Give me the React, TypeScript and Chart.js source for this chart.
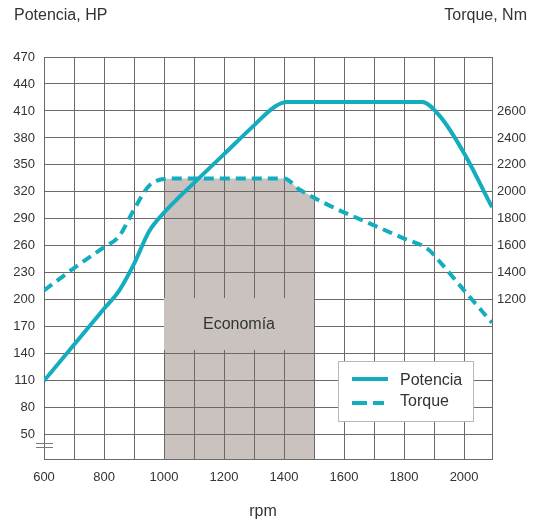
import React, { useEffect, useRef } from 'react';
import { Chart, registerables } from 'chart.js';

Chart.register(...registerables);

// ---- data ----
const potenciaRpm = [600, 700, 800, 850, 900, 950, 1000, 1050, 1100, 1200, 1300, 1370, 1410, 1860, 1920, 2000, 2093];
const potenciaHp = [110, 150, 190, 210, 240, 276, 297, 314, 330, 362, 394, 415, 420, 420, 404, 363, 303];

const torqueRpm = [600, 700, 800, 850, 900, 950, 1000, 1050, 1400, 1450, 1550, 1700, 1800, 1880, 1920, 2000, 2093];
const torqueNm = [1270, 1435, 1590, 1670, 1870, 2045, 2095, 2100, 2100, 2020, 1900, 1752, 1654, 1575, 1480, 1270, 1030];

const economyRpm = [1000, 1050, 1400, 1450, 1500];
const economyNm = [2095, 2100, 2100, 2020, 1960];

const rpmGridTicks = [600, 700, 800, 900, 1000, 1100, 1200, 1300, 1400, 1500, 1600, 1700, 1800, 1900, 2000];
const rpmLabels = [600, 800, 1000, 1200, 1400, 1600, 1800, 2000];
const hpTicks = [50, 80, 110, 140, 170, 200, 230, 260, 290, 320, 350, 380, 410, 440, 470];
const nmTicks = [1200, 1400, 1600, 1800, 2000, 2200, 2400, 2600];

const ECON_LABEL = 'Economía';
const ECON_START = 1000;
const ECON_END = 1500;
const ECON_LABEL_TOP_HP = 202;
const ECON_LABEL_BOTTOM_HP = 144;

const TEAL = '#13adbf';
const GRID = '#6e6866';
const ECON_GRAY = '#c9c2be';
const TEXT = '#333333';
const FONT = '"Liberation Sans", Arial, Helvetica, sans-serif';

const decorPlugin = {
  id: 'decor',
  beforeDatasetsDraw(chart: any) {
    const { ctx } = chart;
    const x = chart.scales.x;
    const y = chart.scales.y;
    const l = Math.round(x.getPixelForValue(ECON_START));
    const r = Math.round(x.getPixelForValue(ECON_END));
    const t = Math.round(y.getPixelForValue(ECON_LABEL_TOP_HP));
    const b = Math.round(y.getPixelForValue(ECON_LABEL_BOTTOM_HP));
    ctx.save();
    ctx.fillStyle = ECON_GRAY;
    ctx.fillRect(l, t, r - l, b - t);
    ctx.fillStyle = TEXT;
    ctx.font = `16px ${FONT}`;
    ctx.textAlign = 'center';
    ctx.textBaseline = 'middle';
    ctx.fillText(ECON_LABEL, (l + r) / 2, (t + b) / 2 + 1);
    ctx.restore();
  },
  afterDraw(chart: any) {
    const { ctx } = chart;
    ctx.save();
    // titles
    ctx.fillStyle = TEXT;
    ctx.font = `16px ${FONT}`;
    ctx.textBaseline = 'middle';
    ctx.textAlign = 'left';
    ctx.fillText('Potencia, HP', 14, 16);
    ctx.textAlign = 'right';
    ctx.fillText('Torque, Nm', 527, 16);
    ctx.textAlign = 'center';
    ctx.fillText('rpm', 263, 512);

    // axis break marks
    ctx.strokeStyle = '#7a7a7a';
    ctx.lineWidth = 1;
    ctx.beginPath();
    ctx.moveTo(36, 443.5);
    ctx.lineTo(53, 443.5);
    ctx.moveTo(36, 447.5);
    ctx.lineTo(53, 447.5);
    ctx.stroke();

    // legend
    const lx = 338, ly = 361, lw = 135, lh = 60;
    ctx.fillStyle = '#ffffff';
    ctx.fillRect(lx, ly, lw, lh);
    ctx.strokeStyle = '#b8b8b8';
    ctx.strokeRect(lx + 0.5, ly + 0.5, lw, lh);

    ctx.strokeStyle = TEAL;
    ctx.lineWidth = 4;
    ctx.beginPath();
    ctx.moveTo(352, 379);
    ctx.lineTo(388, 379);
    ctx.stroke();
    ctx.setLineDash([15, 6]);
    ctx.beginPath();
    ctx.moveTo(352, 403);
    ctx.lineTo(384, 403);
    ctx.stroke();
    ctx.setLineDash([]);

    ctx.fillStyle = TEXT;
    ctx.font = `16px ${FONT}`;
    ctx.textAlign = 'left';
    ctx.textBaseline = 'middle';
    ctx.fillText('Potencia', 400, 381);
    ctx.fillText('Torque', 400, 402);
    ctx.restore();
  },
};

export default function App() {
  const canvasRef = useRef<HTMLCanvasElement | null>(null);

  useEffect(() => {
    const canvas = canvasRef.current;
    if (!canvas) return;
    const chart = new Chart(canvas, {
      type: 'line',
      data: {
        datasets: [
          {
            label: 'Potencia',
            data: potenciaRpm.map((r, i) => ({ x: r, y: potenciaHp[i] })),
            yAxisID: 'y',
            borderColor: TEAL,
            borderWidth: 4,
            pointRadius: 0,
            fill: false,
            cubicInterpolationMode: 'monotone',
          },
          {
            label: 'Torque',
            data: torqueRpm.map((r, i) => ({ x: r, y: torqueNm[i] })),
            yAxisID: 'y2',
            borderColor: TEAL,
            borderWidth: 4,
            borderDash: [10, 6],
            pointRadius: 0,
            fill: false,
            cubicInterpolationMode: 'monotone',
          },
          {
            label: 'Economía',
            data: economyRpm.map((r, i) => ({ x: r, y: economyNm[i] })),
            yAxisID: 'y2',
            borderColor: 'rgba(0,0,0,0)',
            borderWidth: 0,
            backgroundColor: ECON_GRAY,
            pointRadius: 0,
            fill: 'start',
            cubicInterpolationMode: 'monotone',
          },
        ],
      },
      options: {
        responsive: false,
        animation: false,
        devicePixelRatio: 1,
        layout: { padding: { top: 57, left: 0, right: 0, bottom: 0 } },
        plugins: {
          legend: { display: false },
          tooltip: { enabled: false },
          filler: { drawTime: 'beforeDraw' },
        },
        scales: {
          x: {
            type: 'linear',
            min: 600,
            max: 2093,
            afterBuildTicks: (s: any) => {
              s.ticks = rpmGridTicks.map((v) => ({ value: v }));
            },
            afterFit: (s: any) => {
              s.height = 62;
            },
            grid: { color: GRID, lineWidth: 1, drawTicks: false },
            border: { display: true, color: GRID, width: 1 },
            ticks: {
              autoSkip: false,
              maxRotation: 0,
              padding: 11,
              color: TEXT,
              font: { family: FONT, size: 13 },
              callback: (v: any) => (rpmLabels.includes(Number(v)) ? String(v) : ''),
            },
          },
          y: {
            type: 'linear',
            position: 'left',
            min: 23,
            max: 470,
            afterBuildTicks: (s: any) => {
              s.ticks = hpTicks.map((v) => ({ value: v }));
            },
            afterFit: (s: any) => {
              s.width = 44;
            },
            grid: { color: GRID, lineWidth: 1, drawTicks: false },
            border: { display: true, color: GRID, width: 1 },
            ticks: {
              padding: 9,
              color: TEXT,
              font: { family: FONT, size: 13 },
              callback: (v: any) => String(v),
            },
          },
          y2: {
            type: 'linear',
            position: 'right',
            min: 20,
            max: 3000,
            afterBuildTicks: (s: any) => {
              s.ticks = nmTicks.map((v) => ({ value: v }));
            },
            afterFit: (s: any) => {
              s.width = 50;
            },
            grid: { drawOnChartArea: false, drawTicks: false },
            border: { display: true, color: GRID, width: 1 },
            ticks: {
              padding: 5,
              color: TEXT,
              font: { family: FONT, size: 13 },
              callback: (v: any) => String(v),
            },
          },
        },
      },
      plugins: [decorPlugin],
    } as any);
    return () => chart.destroy();
  }, []);

  return (
    <div style={{ position: 'absolute', left: 0, top: 0, width: 542, height: 521, background: '#fff' }}>
      <canvas ref={canvasRef} width={542} height={521} style={{ display: 'block', width: 542, height: 521 }} />
    </div>
  );
}
